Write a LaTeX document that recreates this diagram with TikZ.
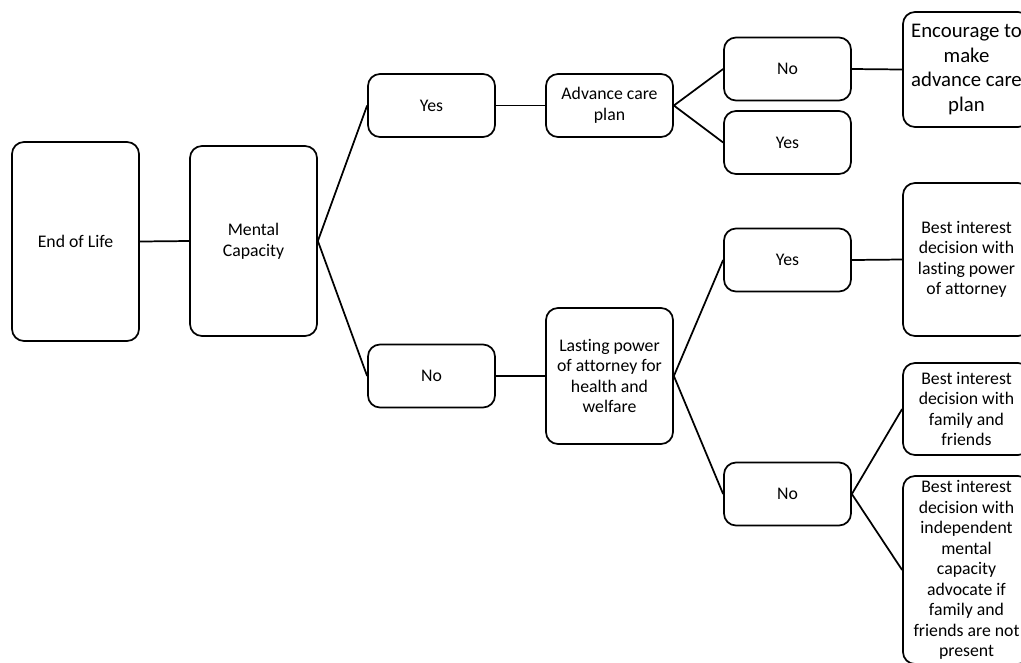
\documentclass[tikz,border=0pt]{standalone}
\usepackage{fontspec}
\setmainfont{Carlito}[Ligatures=NoCommon]
\usepackage{tikz}
\tikzset{
  box/.style={draw, rounded corners=9pt, line width=1.3pt, align=center,
    inner sep=2pt, minimum width=95.25pt, font=\fontsize{13.3}{15.4}\selectfont},
  bigbox/.style={box, font=\fontsize{15.6}{18.5}\selectfont},
  link/.style={line width=1.3pt}
}

\begin{document}
\begin{tikzpicture}[x=0.75pt, y=-0.75pt]
  \useasboundingbox (0,0) rectangle (1021,662);
  \clip (0,0) rectangle (1021,662);
  % first columns
  \node[box, minimum height=149.25pt] (eol) at (75.5,241.5) {End of Life};
  \node[box, minimum height=142.5pt] (mc) at (253.5,241) {Mental\\Capacity};
  \node[box, minimum height=47.25pt] (yes) at (431.5,105.5) {Yes};
  \node[box, minimum height=47.25pt] (no) at (431.5,376) {No};
  % has capacity
  \node[box, minimum height=47.25pt] (acp) at (609.5,105.5) {Advance care\\plan};
  \node[box, minimum height=47.25pt] (acpno) at (787.5,69) {No};
  \node[box, minimum height=47.25pt] (acpyes) at (787.5,142.5) {Yes};
  \node[bigbox, minimum height=86.25pt] (encourage) at (966.5,69.5)
    {Encourage to\\make\\advance care\\plan};
  % lacks capacity
  \node[box, minimum height=102pt] (lpa) at (609.5,376)
    {Lasting power\\of attorney for\\health and\\welfare};
  \node[box, minimum height=47.25pt] (lpayes) at (787.5,260) {Yes};
  \node[box, minimum height=47.25pt] (lpano) at (787.5,494) {No};
  \node[box, minimum height=114.75pt] (bilpa) at (966.5,259.5)
    {Best interest\\decision with\\lasting power\\of attorney};
  \node[box, minimum height=69pt] (bifam) at (966.5,409)
    {Best interest\\decision with\\family and\\friends};
  \node[box, minimum height=141pt] (biimca) at (966.5,570)
    {Best interest\\decision with\\independent\\mental\\capacity\\advocate if\\family and\\friends are not\\present};
  % connectors
  \draw[link] (eol.east) -- (mc.west);
  \draw[link] (mc.east) -- (yes.west)
    (mc.east) -- (no.west);
  \draw[link] (yes.east) -- (acp.west);
  \draw[link] (acp.east) -- (acpno.west)
    (acp.east) -- (acpyes.west);
  \draw[link] (acpno.east) -- (encourage.west);
  \draw[link] (no.east) -- (lpa.west);
  \draw[link] (lpa.east) -- (lpayes.west)
    (lpa.east) -- (lpano.west);
  \draw[link] (lpayes.east) -- (bilpa.west);
  \draw[link] (lpano.east) -- (bifam.west)
    (lpano.east) -- (biimca.west);
\end{tikzpicture}
\end{document}
